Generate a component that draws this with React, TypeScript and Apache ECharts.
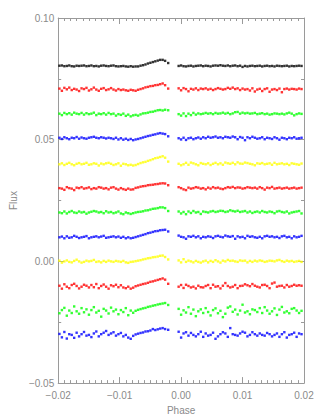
import React, { useEffect, useRef } from "react";
import * as echarts from "echarts";

const phaseLeft = [
  -0.0198, -0.0194, -0.019, -0.0186, -0.0182, -0.0178, -0.0174, -0.017, -0.0166, -0.0162,
  -0.0158, -0.0154, -0.015, -0.0146, -0.0142, -0.0138, -0.0134, -0.013, -0.0126, -0.0122,
  -0.0118, -0.0114, -0.011, -0.0106, -0.0102, -0.0098, -0.0094, -0.009, -0.0086, -0.0082,
  -0.0078, -0.0074, -0.007, -0.0066, -0.0062, -0.0058, -0.0054, -0.005, -0.0046, -0.0042,
  -0.0038, -0.0034, -0.003, -0.0026, -0.0021,
];
const phaseRight = [
  -0.0004, 0.0, 0.0004, 0.0008, 0.0012, 0.0016, 0.002, 0.0024, 0.0028, 0.0032,
  0.0036, 0.004, 0.0044, 0.0048, 0.0052, 0.0056, 0.006, 0.0064, 0.0068, 0.0072,
  0.0076, 0.008, 0.0084, 0.0088, 0.0092, 0.0096, 0.01, 0.0104, 0.0108, 0.0112,
  0.0116, 0.012, 0.0124, 0.0128, 0.0132, 0.0136, 0.014, 0.0144, 0.0148, 0.0152,
  0.0156, 0.016, 0.0164, 0.0168, 0.0172, 0.0176, 0.018, 0.0184, 0.0188, 0.0192,
  0.0196,
];

// row baselines (flux offsets) and colours
const rowOffsets = [0.0803, 0.0706, 0.0605, 0.0506, 0.0399, 0.0299, 0.0201, 0.0099, -0.0002, -0.0104, -0.0205, -0.0302];
const rowColors = ["#000000", "#ff0000", "#00ff00", "#0000ff", "#ffff00", "#ff0000", "#00ff00", "#0000ff", "#ffff00", "#ff0000", "#00ff00", "#0000ff"];

// deviations from each baseline, in units of 0.0001 flux
const row01Left = [1,2,-1,0,2, -1,-2,1,0,1, 2,-1,0,2,-1, 0,-2,1,2,0, -1,1,2,-1,-2, -1,0,-2,-3,-1, -3,-2,-2,1,3, 6,10,13,16,19, 22,25,25,21,12];
const row01Right = [0,2,-1,-2,0, 1,-2,0,1,2, -1,1,0,-2,1, 2,1,3,1,0, 2,-1,1,2,-1, 1,-4,0,-2,0, 1,-1,0,1,-2, 0,1,-1,0,-2, 1,0,-1,0,1, -2,0,-1,0,1, 0];
const row02Left = [4,-5,7,1,8, -2,3,0,-6,5, 2,7,-4,1,8, 0,-5,3,6,-2, 1,6,0,-4,2, -2,0,-3,-5,-1, -3,-5,-1,2,5, 9,11,14,15,18, 19,22,25,18,4];
const row02Right = [5,-3,6,2,-7, 3,0,5,-2,4, 2,5,0,3,-2, 2,6,3,0,2, 7,3,8,2,5, -2,4,0,2,-4, 5,-8,0,3,-6, 2,5,-9,0,2, -2,4,-11,2,4, 0,3,2,0,4, 2];
const row03Left = [2,-4,5,0,4, -2,6,2,0,5, -2,4,0,2,6, -4,2,0,4,-2, 5,0,2,-6,0, -3,2,-7,-2,-9, -5,-3,-6,-1,3, 4,6,9,10,13, 16,17,15,18,16];
const row03Right = [0,-6,3,-8,2, -4,5,-2,3,0, 2,5,2,4,0, 5,2,3,6,2, 5,0,3,8,9, 2,6,3,5,2, 3,5,0,2,4, 0,2,-2,0,3, 2,0,2,-1,3, 6,2,-5,0,3, 1];
const row04Left = [2,-3,4,0,-4, 2,0,5,-2,3, 0,-2,2,4,6, 2,0,4,2,-1, 2,0,-3,2,-5, 0,-6,-2,-7,-3, -8,-5,-3,0,3, 6,9,11,14,16, 19,21,19,17,8];
const row04Right = [0,-5,2,-7,0, 2,-4,0,3,-2, 4,0,6,2,4, 7,2,4,0,6, 4,2,7,4,-4, 5,2,-8,4,0, 6,2,-2,0,4, -4,2,0,-3,4, 0,-6,2,0,-4, 2,0,4,-2,0, 2];
const row05Left = [0,4,-3,2,6, 0,-4,2,5,0, 2,6,-2,0,4, 2,-5,3,0,4, 6,2,-3,0,4, -6,2,0,-4,-2, -5,-3,1,5,8, 10,14,17,21,25, 27,30,33,27,11];
const row05Right = [2,-4,0,6,-2, 7,4,0,-4,5, 2,0,4,-3,2, 6,0,4,-2,7, 4,2,6,0,8, 3,2,7,5,2, 0,-4,4,2,5, 0,2,4,-2,6, 0,2,4,0,2, -3,4,2,0,-2, 3];
const row06Left = [2,0,-5,6,2, 0,-6,4,2,6, 0,2,5,-2,2, 0,6,4,0,2, -3,4,6,0,-4, 2,-2,-5,0,-4, -3,3,5,8,10, 11,14,15,16,18, 19,21,22,21,14];
const row06Right = [6,2,-3,-6,4, 0,2,6,4,0, 2,-3,4,0,6, 2,4,0,-2,2, 6,4,7,2,5, 4,0,2,6,4, 2,4,0,6,2, -4,4,2,7,0, 2,4,0,2,4, 0,2,4,0,2, 4];
const row07Left = [0,-3,4,-4,2, 6,0,-2,4,0, 2,-5,0,3,6, 4,0,2,-3,5, 0,2,-3,0,4, -4,-7,0,-3,-6, -3,0,2,3,5, 8,9,12,15,16, 18,21,21,18,6];
const row07Right = [4,-4,2,-7,4, -2,6,0,2,-6, 4,2,0,4,6, 2,4,7,6,2, 4,9,6,4,7, 2,4,6,0,4, -2,2,4,0,6, 2,0,4,2,-3, 4,6,2,0,4, -4,0,2,4,6, -4];
const row08Left = [0,3,-4,4,-2, 0,6,2,-3,0, 2,5,-4,0,2, 4,0,3,6,-2, 0,2,4,0,3, -2,2,-4,0,-4, -2,1,4,7,10, 13,17,19,22,25, 26,29,30,31,24];
const row08Right = [7,2,0,-6,4, 2,6,0,4,-4, 2,0,4,2,-3, 4,6,2,0,7, 4,2,5,-6,4, 0,2,-4,6,2, 4,0,-2,2,-4, 4,6,2,4,0, 2,-3,4,6,0, 2,-4,4,0,2, 6];
const row09Left = [5,-3,2,6,0, -2,4,9,2,-3, 0,5,2,4,8, 0,2,-2,4,0, 5,2,0,4,2, 0,4,-2,-4,0, 1,3,5,7,10, 12,15,16,19,20, 22,25,26,20,10];
const row09Right = [6,-2,11,0,5, 2,-2,4,0,-3, 2,5,-2,4,0, 7,2,-3,5,2, 8,4,5,2,0, 6,4,5,-2,4, 0,5,2,6,4, 0,2,5,4,2, 6,8,3,0,5, 2,4,0,2,4, 0];
const row10Left = [4,-8,10,0,-6, 7,12,3,-7,0, 8,4,-3,7,-2, 11,-6,3,9,0, -8,6,2,8,-2, 6,-3,-6,0,-8, -4,2,5,8,11, 13,16,20,22,25, 28,31,34,29,12];
const row10Right = [0,7,-5,8,3, -3,0,-7,4,-2, -3,3,7,-6,8, 0,2,-7,4,15, 3,-3,0,7,-6, 3,4,10,6,2, 11,4,0,-3,7, 8,3,-6,13,17, 0,3,4,-3,7, 0,3,8,4,6, 4];
const row11Left = [-8,5,14,-18,3, -7,20,0,-10,13, -4,8,-14,5,17, -5,2,-22,10,3, -9,15,0,7,-12, 5,-3,13,-16,3, -6,2,6,9,12, 14,18,20,23,25, 28,30,32,34,26];
const row11Right = [10,-14,4,-5,17, -10,7,-20,0,8, -7,13,-3,-17,5, 12,-8,2,-24,-10, 15,20,-2,7,-13, 3,27,-5,0,-12, 8,5,-3,13,-7, 17,3,-10,0,12, -15,7,18,-5,0, -8,10,13,3,-7, 2];
const row12Left = [4,-10,12,-15,3, 0,-12,9,-6,3, 12,-3,0,-9,6, 14,-6,3,9,16, 0,6,11,-3,3, 8,-6,0,-11,-16, -4,2,5,8,10, 14,15,18,24,20, 23,26,28,24,21];
const row12Right = [13,-11,6,11,-3, 8,0,-6,3,13, -8,6,-3,0,9, -16,-6,3,11,6, -8,28,3,0,-3, 6,13,9,-6,0, 11,3,-3,6,0, -3,8,3,-6,0, 6,-8,3,11,-11, 0,3,9,-8,6, 3];

const rowsLeft = [row01Left, row02Left, row03Left, row04Left, row05Left, row06Left, row07Left, row08Left, row09Left, row10Left, row11Left, row12Left];
const rowsRight = [row01Right, row02Right, row03Right, row04Right, row05Right, row06Right, row07Right, row08Right, row09Right, row10Right, row11Right, row12Right];

const FONT = "'Liberation Sans', Arial, sans-serif";
const AXIS_COLOR = "#9a9a9a";
const TEXT_COLOR = "#8a8a8a";

function fmt(v: number): string {
  if (Math.abs(v) < 1e-9) return "0.00";
  const s = Math.abs(v).toFixed(2);
  return v < 0 ? "\u2212" + s : s;
}

function makeAxis(extra: any) {
  return {
    type: "value",
    axisLine: { show: true, onZero: false, lineStyle: { color: AXIS_COLOR, width: 1 } },
    axisTick: { show: true, inside: true, length: 6, lineStyle: { color: AXIS_COLOR } },
    minorTick: { show: true, length: 3, lineStyle: { color: AXIS_COLOR } },
    splitLine: { show: false },
    minorSplitLine: { show: false },
    ...extra,
  };
}

export default function App() {
  const ref = useRef<HTMLDivElement>(null);
  useEffect(() => {
    if (!ref.current) return;
    const chart = echarts.init(ref.current, null, { renderer: "svg" });
    const series = rowsLeft.map((left, r) => {
      const right = rowsRight[r];
      const data: number[][] = [];
      left.forEach((d, i) => {
        if (i < phaseLeft.length) data.push([phaseLeft[i], rowOffsets[r] + d * 0.0001]);
      });
      right.forEach((d, i) => {
        if (i < phaseRight.length) data.push([phaseRight[i], rowOffsets[r] + d * 0.0001]);
      });
      return {
        type: "scatter",
        symbol: "rect",
        symbolSize: 2.4,
        itemStyle: { color: rowColors[r] },
        data,
        xAxisIndex: 0,
        yAxisIndex: 0,
      };
    });
    const xBase = { min: -0.02, max: 0.02, interval: 0.01 };
    const yBase = { min: -0.05, max: 0.1, interval: 0.05 };
    chart.setOption({
      animation: false,
      backgroundColor: "#ffffff",
      grid: { left: 53, right: 16, top: 18, bottom: 35, containLabel: false },
      xAxis: [
        makeAxis({
          ...xBase,
          position: "bottom",
          name: "Phase",
          nameLocation: "middle",
          nameGap: 21,
          nameTextStyle: { color: TEXT_COLOR, fontSize: 10, fontFamily: FONT },
          minorTick: { show: true, splitNumber: 10, length: 3, lineStyle: { color: AXIS_COLOR } },
          axisLabel: { color: TEXT_COLOR, fontSize: 10, fontFamily: FONT, margin: 7, formatter: fmt },
        }),
        makeAxis({
          ...xBase,
          position: "top",
          minorTick: { show: true, splitNumber: 10, length: 3, lineStyle: { color: AXIS_COLOR } },
          axisLabel: { show: false },
        }),
      ],
      yAxis: [
        makeAxis({
          ...yBase,
          position: "left",
          name: "Flux",
          nameLocation: "middle",
          nameGap: 36,
          nameRotate: 90,
          nameTextStyle: { color: TEXT_COLOR, fontSize: 10, fontFamily: FONT },
          minorTick: { show: true, splitNumber: 2, length: 3, lineStyle: { color: AXIS_COLOR } },
          axisLabel: { color: TEXT_COLOR, fontSize: 10, fontFamily: FONT, margin: 4, formatter: fmt },
        }),
        makeAxis({
          ...yBase,
          position: "right",
          minorTick: { show: true, splitNumber: 2, length: 3, lineStyle: { color: AXIS_COLOR } },
          axisLabel: { show: false },
        }),
      ],
      series,
    });
    return () => chart.dispose();
  }, []);
  return (
    <div
      ref={ref}
      style={{ position: "fixed", left: 0, top: 0, width: 320, height: 420, background: "#fff" }}
    />
  );
}
